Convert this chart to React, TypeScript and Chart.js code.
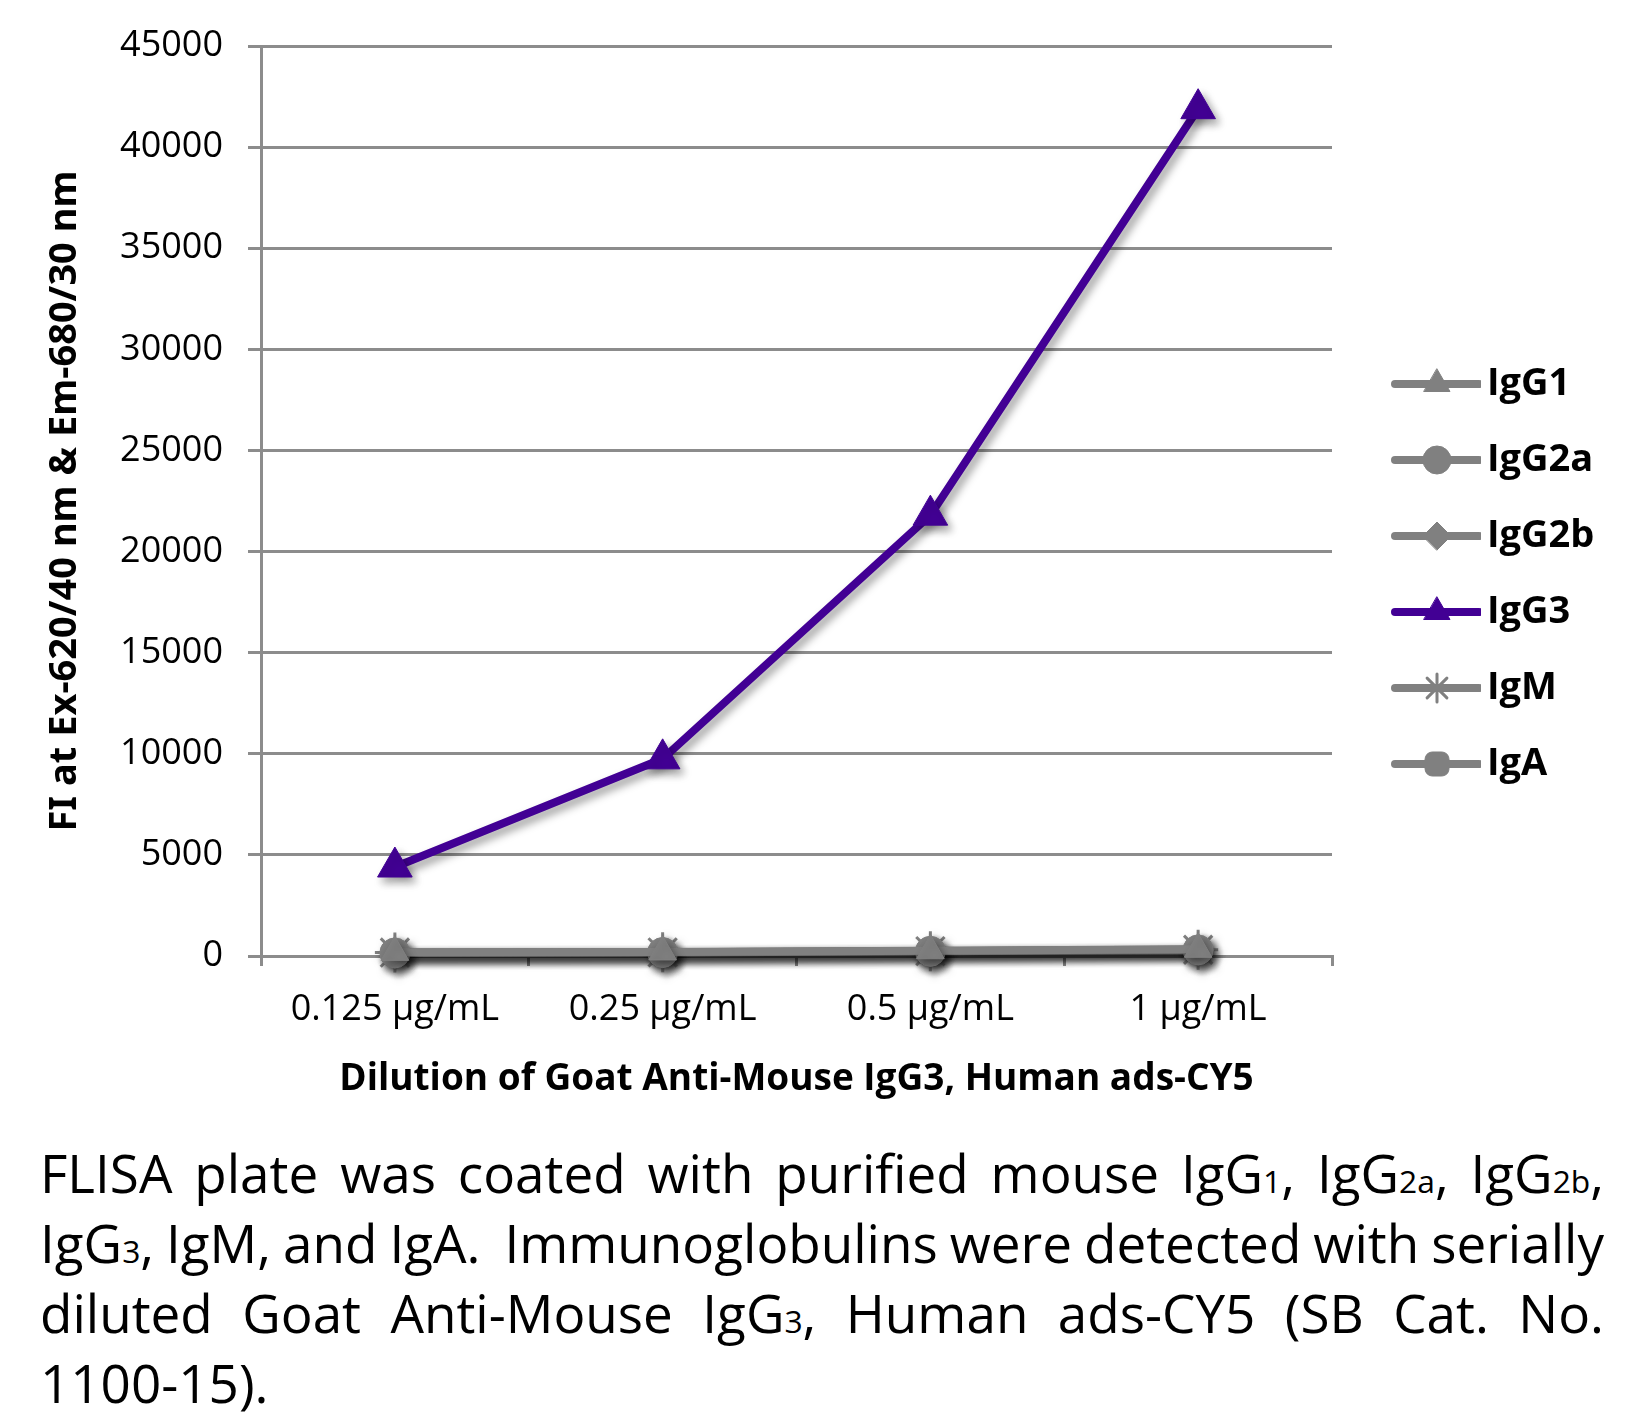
import React, { useEffect, useRef } from "react";
import { Chart, registerables } from "chart.js";
import { drawPoint } from "chart.js/helpers";

Chart.register(...registerables);

// ---------- data ----------
const categories = ["0.125 µg/mL", "0.25 µg/mL", "0.5 µg/mL", "1 µg/mL"];
const seriesNames = ["IgG1", "IgG2a", "IgG2b", "IgG3", "IgM", "IgA"];
const igg1Values = [180, 200, 260, 330];
const igg2aValues = [150, 170, 230, 300];
const igg2bValues = [160, 190, 250, 320];
const igg3Values = [4400, 9750, 21800, 41900];
const igmValues = [170, 180, 240, 310];
const igaValues = [140, 160, 220, 290];
const yMin = 0;
const yMax = 45000;
const yStep = 5000;
const xTitle = "Dilution of Goat Anti-Mouse IgG3, Human ads-CY5";
const yTitle = "FI at Ex-620/40 nm & Em-680/30 nm";

// ---------- styles ----------
const GRAY = "#808080";
const PURPLE = "#420094";
const GRID = "#8c8c8c";
const CANVAS_W = 1626;
const CANVAS_H = 1094;
const AREA_TOP = 38;
const AREA_LEFT = 253;
const AREA_RIGHT = 1324;
const AREA_BOTTOM = 948;
const Y_TITLE_LEN = 654;
const Y_TITLE_CENTER_X = 57;

const seriesStyles = [
  { color: GRAY, pointStyle: "triangle", radius: 16, legendRadius: 15, border: 1 },
  { color: GRAY, pointStyle: "circle", radius: 15, legendRadius: 14, border: 1 },
  { color: GRAY, pointStyle: "rectRot", radius: 16, legendRadius: 14, border: 1 },
  { color: PURPLE, pointStyle: "triangle", radius: 20, legendRadius: 15, border: 1 },
  { color: GRAY, pointStyle: "star", radius: 20, legendRadius: 14, border: 3 },
  { color: GRAY, pointStyle: "rectRounded", radius: 15, legendRadius: 14, border: 1 },
];
const seriesValues = [igg1Values, igg2aValues, igg2bValues, igg3Values, igmValues, igaValues];

// legend swatch geometry (line + marker drawn into a small canvas)
const LEGEND_FONT = 38;
const LEGEND_PAD = 38;
const LEGEND_BOX_W = 98;
const SWATCH_W = 124;
const SWATCH_H = 44;
const SWATCH_LINE_FROM = 38;
const SWATCH_LINE_TO = 122;

function makeSwatch(style: any): HTMLCanvasElement {
  const c = document.createElement("canvas");
  c.width = SWATCH_W;
  c.height = SWATCH_H;
  const ctx = c.getContext("2d")!;
  const cy = SWATCH_H / 2;
  ctx.strokeStyle = style.color;
  ctx.lineCap = "round";
  ctx.lineWidth = 8;
  ctx.beginPath();
  ctx.moveTo(SWATCH_LINE_FROM, cy);
  ctx.lineTo(SWATCH_LINE_TO, cy);
  ctx.stroke();
  ctx.fillStyle = style.color;
  ctx.strokeStyle = style.color;
  ctx.lineWidth = style.border;
  drawPoint(
    ctx,
    { pointStyle: style.pointStyle, rotation: 0, radius: style.legendRadius, borderWidth: style.border } as any,
    (SWATCH_LINE_FROM + SWATCH_LINE_TO) / 2,
    cy
  );
  return c;
}

// pick a condensed bold face if the browser has one, and a size giving the reference title length
function yTitleFont() {
  const family = "'Noto Sans', 'Open Sans', sans-serif";
  const ctx = document.createElement("canvas").getContext("2d")!;
  let weight = "bold condensed";
  ctx.font = "10px serif";
  ctx.font = `bold condensed 40px ${family}`;
  if (!/condensed/i.test(ctx.font)) {
    weight = "bold";
    ctx.font = `bold 40px ${family}`;
  }
  const w = ctx.measureText(yTitle).width || Y_TITLE_LEN;
  const size = Math.min(44, Math.round((40 * Y_TITLE_LEN) / w));
  return { family, weight, size };
}

const shadowPlugin = {
  id: "lineShadow",
  beforeDatasetDraw(chart: any) {
    const ctx = chart.ctx;
    ctx.save();
    ctx.shadowColor = "rgba(0,0,0,0.38)";
    ctx.shadowBlur = 9;
    ctx.shadowOffsetX = 4;
    ctx.shadowOffsetY = 5;
  },
  afterDatasetDraw(chart: any) {
    chart.ctx.restore();
  },
};

const Sub = ({ children }: { children: any }) => (
  <span style={{ fontSize: "0.6em", lineHeight: 1 }}>{children}</span>
);

export default function App() {
  const canvasRef = useRef<HTMLCanvasElement | null>(null);

  useEffect(() => {
    document.documentElement.style.overflow = "hidden";
    document.body.style.overflow = "hidden";
    const canvas = canvasRef.current;
    if (!canvas) return;
    const swatches = seriesStyles.map(makeSwatch);
    const yf = yTitleFont();

    const datasets = seriesNames.map((name, i) => {
      const s = seriesStyles[i];
      return {
        label: name,
        data: seriesValues[i],
        borderColor: s.color,
        backgroundColor: s.color,
        borderWidth: 8,
        pointStyle: s.pointStyle,
        pointRadius: s.radius,
        pointHoverRadius: s.radius,
        pointBackgroundColor: s.color,
        pointBorderColor: s.color,
        pointBorderWidth: s.border,
        tension: 0,
        fill: false,
        clip: false,
      };
    });

    const chart = new Chart(canvas, {
      type: "line",
      data: { labels: categories, datasets } as any,
      plugins: [shadowPlugin],
      options: {
        responsive: false,
        animation: false,
        events: [],
        layout: { padding: { top: AREA_TOP, left: 0, right: 0, bottom: 0 } },
        scales: {
          x: {
            offset: true,
            afterFit: (scale: any) => {
              scale.height = CANVAS_H - AREA_BOTTOM;
            },
            grid: {
              display: true,
              offset: true,
              drawOnChartArea: false,
              drawTicks: true,
              tickLength: 10,
              color: GRID,
              lineWidth: 3,
            },
            border: { display: true, color: GRID, width: 3 },
            ticks: {
              color: "#000",
              padding: 22,
              maxRotation: 0,
              font: { family: "'Open Sans', sans-serif", size: 36 },
            },
            title: {
              display: true,
              text: xTitle,
              color: "#000",
              padding: { top: 0, bottom: 0 },
              font: { family: "'Open Sans', sans-serif", size: 37, weight: "bold" },
            },
          },
          y: {
            min: yMin,
            max: yMax,
            afterFit: (scale: any) => {
              scale.width = AREA_LEFT;
              scale.paddingTop = 0;
              scale.paddingBottom = 0;
            },
            grid: {
              color: GRID,
              lineWidth: 3,
              drawTicks: true,
              tickLength: 13,
            },
            border: { display: true, color: GRID, width: 3 },
            ticks: {
              stepSize: yStep,
              color: "#000",
              padding: 25,
              font: { family: "'Open Sans', sans-serif", size: 36 },
              callback: (v: any) => String(v),
            },
            title: {
              display: true,
              text: yTitle,
              color: "#000",
              padding: { top: Math.max(0, Y_TITLE_CENTER_X - yf.size * 0.6), bottom: 0 },
              font: { family: yf.family, size: yf.size, weight: yf.weight },
            },
          },
        },
        plugins: {
          tooltip: { enabled: false },
          legend: {
            position: "right",
            align: "center",
            labels: {
              usePointStyle: true,
              pointStyleWidth: LEGEND_BOX_W,
              padding: LEGEND_PAD,
              color: "#000",
              font: { family: "'Open Sans', sans-serif", size: LEGEND_FONT, weight: "bold" },
              generateLabels: (ch: any) =>
                ch.data.datasets.map((ds: any, i: number) => ({
                  text: ds.label,
                  pointStyle: swatches[i],
                  fillStyle: "rgba(0,0,0,0)",
                  strokeStyle: "rgba(0,0,0,0)",
                  lineWidth: 0,
                  hidden: false,
                  datasetIndex: i,
                  fontColor: "#000",
                })),
            },
          },
        },
      } as any,
    });

    // second pass: place chart area's right edge where the reference has it
    const legendW = (chart as any).legend ? (chart as any).legend.width : 0;
    (chart.options as any).layout.padding.right = Math.max(0, CANVAS_W - AREA_RIGHT - legendW);
    chart.update();

    return () => chart.destroy();
  }, []);

  const justify: React.CSSProperties = { textAlign: "justify", textAlignLast: "justify" };

  return (
    <div>
      <canvas
        ref={canvasRef}
        width={CANVAS_W}
        height={CANVAS_H}
        style={{ display: "block", width: CANVAS_W, height: CANVAS_H }}
      />
      <div
        style={{
          marginTop: 36,
          marginLeft: 32,
          width: 1564,
          fontFamily: "'Open Sans', sans-serif",
          fontSize: 53,
          wordSpacing: "-4px",
          lineHeight: "70px",
          color: "#000",
          whiteSpace: "nowrap",
        }}
      >
        <div style={justify}>
          FLISA plate was coated with purified mouse IgG<Sub>1</Sub>, IgG<Sub>2a</Sub>, IgG<Sub>2b</Sub>,
        </div>
        <div style={justify}>
          IgG<Sub>3</Sub>, IgM, and IgA.{"\u00a0"} Immunoglobulins were detected with serially
        </div>
        <div style={justify}>
          diluted Goat Anti-Mouse IgG<Sub>3</Sub>, Human ads-CY5 (SB Cat. No.
        </div>
        <div>1100-15).</div>
      </div>
    </div>
  );
}
